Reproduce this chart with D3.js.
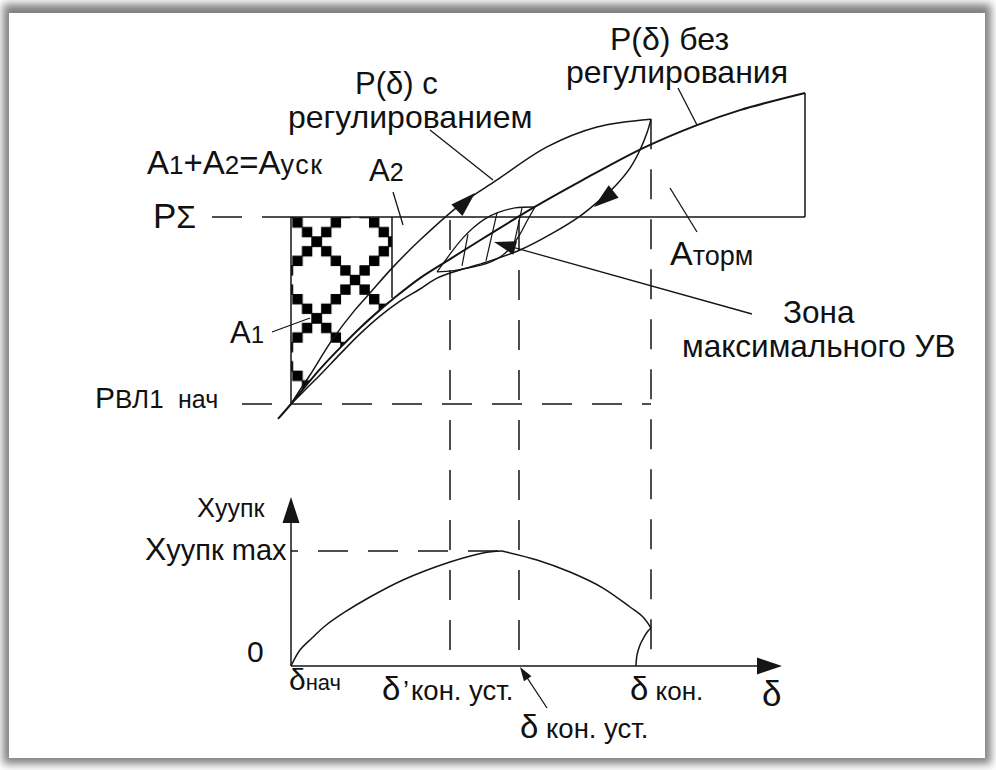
<!DOCTYPE html>
<html>
<head>
<meta charset="utf-8">
<script src="https://cdn.jsdelivr.net/npm/d3@7"></script>
<style>
  html, body { margin: 0; padding: 0; background: #fff; }
  svg { display: block; }
  text { font-family: "Liberation Sans", Arial, sans-serif; fill: #111; }
</style>
</head>
<body>
<svg id="chart" width="996" height="770"></svg>
<script>
// ---- characteristic angles, δ in degrees ----
const deltaStart = 30;          // δнач
const deltaSetPrime = 69.75;    // δ'кон. уст.
const deltaSet = 87;            // δкон. уст.
const deltaEnd = 120;           // δкон.
const deltaRight = 158.5;       // right edge of the braking area
const deltaAxisEnd = 152.75;    // δ axis arrow tip

// ---- power levels, relative units ----
const pStart = 0.4;             // PВЛ1 нач
const pSum = 1.0;               // PΣ
const accelEdge = [55.25, 0.74];  // right edge of the accelerating area

// P(δ) без регулирования
const pNoReg = [
  [26.75, 0.352], [30, 0.400], [33.5, 0.455], [37.25, 0.512], [42.25, 0.580],
  [47.25, 0.644], [52.25, 0.702], [55.5, 0.737], [62.25, 0.804], [69.75, 0.865],
  [79.75, 0.945], [90.5, 1.029], [103, 1.119], [118, 1.221], [131.5, 1.295],
  [142.25, 1.343], [158.5, 1.398]
];

// P(δ) с регулированием: swing forward
const pRegUp = [
  [30, 0.400], [32.25, 0.445], [34.75, 0.493], [40.25, 0.605], [46, 0.702],
  [49.75, 0.756], [55.25, 0.836], [62.25, 0.926], [72.25, 1.039], [81.5, 1.119],
  [94, 1.225], [106.5, 1.289], [120, 1.314]
];

// P(δ) с регулированием: swing back
const pRegBack = [
  [120, 1.314], [119, 1.270], [117.25, 1.215], [114.75, 1.157], [111, 1.099],
  [107.25, 1.055], [102.25, 1.003], [95.5, 0.949], [87.25, 0.894], [79, 0.856],
  [72.25, 0.830], [66.5, 0.804], [62.25, 0.769], [57.25, 0.730], [52.25, 0.682],
  [47.25, 0.625], [42.25, 0.560], [37.25, 0.493], [33.5, 0.445], [30, 0.400]
];

// zone of maximal excitation: two arcs and the hatching
const zoneUpper = [
  [66.5, 0.824], [68.5, 0.859], [70.5, 0.894], [73, 0.933], [75.5, 0.965],
  [78.5, 0.994], [81.5, 1.013], [86, 1.029], [91, 1.032]
];
const zoneLower = [
  [66.5, 0.824], [70.25, 0.827], [74, 0.836], [77.75, 0.846], [80.5, 0.859],
  [83, 0.878], [85.25, 0.907], [87.25, 0.945], [89, 0.987], [91, 1.032]
];
const zoneHatch = [
  [[74.25, 0.945], [72.75, 0.843]],
  [[81.5, 1.013], [78.75, 0.859]],
  [[87.75, 1.029], [85.75, 0.913]]
];

// direction arrows on the swing curves: [tip, base]
const swingArrows = [
  [[76, 1.077], [71.5, 1.022]],
  [[105.75, 1.032], [110.5, 1.080]]
];

// x уупк(δ), relative to x уупк max
const xRise = [
  [30, 0], [32.25, 0.139], [35.25, 0.243], [38.5, 0.348], [43.5, 0.47],
  [49.75, 0.6], [58, 0.748], [69.75, 0.904], [78, 0.983], [82.75, 1]
];
const xFall = [
  [82.75, 1], [91.5, 0.922], [99.75, 0.817], [108, 0.678], [114.75, 0.513],
  [118, 0.426], [120, 0.33]
];
const xBack = [
  [120, 0.33], [119.25, 0.304], [118.25, 0.252], [117.25, 0.183], [116.5, 0.096], [116.25, 0]
];
const xMax = 1;
const xAxisTop = 1.47;

// ---- scales ----
const x = d3.scaleLinear().domain([deltaStart, deltaRight]).range([291, 805]);
const yP = d3.scaleLinear().domain([pStart, pSum]).range([404, 217]);
const yX = d3.scaleLinear().domain([0, xMax]).range([666, 551]);

const svg = d3.select("#chart");
const INK = "#151515";

// ---- card with soft shadow ----
const defs = svg.append("defs");
const blur = defs.append("filter").attr("id", "shadow")
  .attr("x", "-5%").attr("y", "-5%").attr("width", "110%").attr("height", "110%");
blur.append("feGaussianBlur").attr("stdDeviation", 4);
svg.append("rect").attr("x", 3).attr("y", 4).attr("width", 988).attr("height", 760)
  .attr("fill", "#808080").attr("filter", "url(#shadow)");
svg.append("rect").attr("x", 9).attr("y", 13).attr("width", 976).attr("height", 745)
  .attr("fill", "#fff");

// ---- checkered fill of the accelerating area ----
const T = 76.67, s = T / 8, sq = 10.4;
const pat = defs.append("pattern").attr("id", "lattice")
  .attr("patternUnits", "userSpaceOnUse")
  .attr("x", 316.7 - T / 2).attr("y", 241.7 - T / 2)
  .attr("width", T).attr("height", T);
for (let i = 0; i <= 8; i++) {
  [[i * s, i * s], [i * s, T - i * s]].forEach(([cx, cy]) => {
    pat.append("rect").attr("x", cx - sq / 2).attr("y", cy - sq / 2)
      .attr("width", sq).attr("height", sq).attr("fill", "#000");
  });
}
const accelPoly = [[deltaStart, pSum], [accelEdge[0], pSum], accelEdge]
  .concat(pNoReg.filter(d => d[0] < accelEdge[0] && d[0] >= deltaStart).reverse());
defs.append("clipPath").attr("id", "accelClip")
  .append("path")
  .attr("d", "M" + accelPoly.map(d => [x(d[0]), yP(d[1])].join(",")).join("L") + "Z");
svg.append("rect")
  .attr("x", x(deltaStart)).attr("y", yP(pSum))
  .attr("width", x(accelEdge[0]) - x(deltaStart)).attr("height", yP(pStart) - yP(pSum))
  .attr("fill", "url(#lattice)").attr("clip-path", "url(#accelClip)");

// ---- helpers ----
const lineP = d3.line().x(d => x(d[0])).y(d => yP(d[1])).curve(d3.curveCatmullRom.alpha(0.5));
const lineX = d3.line().x(d => x(d[0])).y(d => yX(d[1])).curve(d3.curveCatmullRom.alpha(0.5));

function seg(x1, y1, x2, y2, opts = {}) {
  const l = svg.append("line").attr("x1", x1).attr("y1", y1).attr("x2", x2).attr("y2", y2)
    .attr("stroke", INK).attr("stroke-width", opts.w || 1.5);
  if (opts.dash) l.attr("stroke-dasharray", opts.dash).attr("stroke-dashoffset", opts.offset || 0);
  return l;
}
function arrowHead(tx, ty, bx, by, len, half) {
  const dx = tx - bx, dy = ty - by, n = Math.hypot(dx, dy);
  const ux = dx / n, uy = dy / n;
  const cx = tx - ux * len, cy = ty - uy * len;
  const pts = [[tx, ty], [cx - uy * half, cy + ux * half], [cx + uy * half, cy - ux * half]];
  svg.append("path").attr("d", "M" + pts.map(p => p.join(",")).join("L") + "Z").attr("fill", INK);
}

const DASH = "30,20";

// ---- reference lines, upper diagram ----
seg(212, yP(pSum), x(deltaStart), yP(pSum), { dash: DASH });                 // PΣ level
seg(x(deltaStart), yP(pSum), x(deltaRight), yP(pSum));                       // PΣ
seg(242, yP(pStart), x(deltaEnd), yP(pStart), { dash: DASH });               // PВЛ1 нач
seg(x(deltaStart), yP(pSum), x(deltaStart), yP(pStart));                     // δнач
seg(x(accelEdge[0]), yP(pSum), x(accelEdge[0]), yP(accelEdge[1]));          // A1 | A2 border
seg(x(deltaRight), yP(pNoReg[pNoReg.length - 1][1]), x(deltaRight), yP(pSum)); // braking area edge

// vertical projections to the lower diagram
seg(x(deltaSetPrime), yP(pSum) + 3, x(deltaSetPrime), yX(0) - 14, { dash: DASH });
seg(x(deltaSet), yP(pSum) + 3, x(deltaSet), yX(0) - 14, { dash: DASH });
seg(x(deltaEnd), yP(pRegUp[pRegUp.length - 1][1]), x(deltaEnd), yX(0) - 11, { dash: DASH });

// ---- curves ----
svg.append("path").attr("d", lineP(pNoReg)).attr("fill", "none").attr("stroke", INK).attr("stroke-width", 2);
svg.append("path").attr("d", lineP(pRegUp)).attr("fill", "none").attr("stroke", INK).attr("stroke-width", 1.5);
svg.append("path").attr("d", lineP(pRegBack)).attr("fill", "none").attr("stroke", INK).attr("stroke-width", 1.5);
svg.append("path").attr("d", lineP(zoneUpper)).attr("fill", "none").attr("stroke", INK).attr("stroke-width", 1.3);
svg.append("path").attr("d", lineP(zoneLower)).attr("fill", "none").attr("stroke", INK).attr("stroke-width", 1.3);
zoneHatch.forEach(h => seg(x(h[0][0]), yP(h[0][1]), x(h[1][0]), yP(h[1][1]), { w: 1.2 }));
swingArrows.forEach(a => arrowHead(x(a[0][0]), yP(a[0][1]), x(a[1][0]), yP(a[1][1]), 25, 8));

// ---- lower diagram ----
seg(x(deltaStart), yX(0), x(deltaAxisEnd) - 20, yX(0));
arrowHead(x(deltaAxisEnd), yX(0), x(deltaStart), yX(0), 25, 8.5);
seg(x(deltaStart), yX(0), x(deltaStart), yX(xAxisTop) + 20);
arrowHead(x(deltaStart), yX(xAxisTop), x(deltaStart), yX(0), 26, 8.5);
seg(x(deltaStart), yX(xMax), x(xRise[xRise.length - 1][0]), yX(xMax), { dash: DASH, offset: 23 });
[xRise, xFall, xBack].forEach(d =>
  svg.append("path").attr("d", lineX(d)).attr("fill", "none").attr("stroke", INK).attr("stroke-width", 1.5));

// ---- leaders ----
seg(430, 130, 493, 180, { w: 1.3 });
seg(678, 88, 697, 125, { w: 1.3 });
seg(670, 188, 697, 232, { w: 1.3 });
seg(393, 192, 403, 225, { w: 1.3 });
seg(272, 332, 310, 318, { w: 1.3 });
seg(752, 314, 505, 245, { w: 1.3 });
arrowHead(494, 242, 752, 314, 22, 7);
seg(547, 708, 524, 673, { w: 1.3 });
arrowHead(520, 667, 547, 708, 14, 4.5);

// ---- labels ----
function label(xp, yp, parts) {
  const t = svg.append("text").attr("x", xp).attr("y", yp);
  parts.forEach(p => {
    const ts = t.append("tspan").text(p[0]).attr("font-size", p[1]);
    if (p[2] !== undefined) ts.attr("x", p[2]);
    if (p[3] !== undefined) ts.attr("letter-spacing", p[3]);
  });
  return t;
}
label(610, 50, [["P(δ) без", 32]]);
label(566, 83, [["регулирования", 32]]);
label(355, 94, [["P(δ) с", 31]]);
label(288, 128, [["регулированием", 32]]);
label(147, 174, [["A", 33], ["1", 26], ["+A", 33], ["2", 26], ["=A", 33], ["уск", 27, undefined, 1.5]]);
label(369, 181, [["A", 31], ["2", 25]]);
label(153, 228, [["P", 35], ["Σ", 32]]);
label(670, 265, [["A", 34], ["торм", 27]]);
label(783, 323, [["Зона", 31.5]]);
label(682, 357, [["максимального УВ", 31.5]]);
label(230, 343, [["A", 31], ["1", 24]]);
label(95, 408, [["P", 30], ["ВЛ1", 26], ["нач", 25, 178]]);
label(197, 517, [["X", 27], ["уупк", 25]]);
label(145, 560, [["X", 32], ["уупк max", 29]]);
label(247, 662, [["0", 30]]);
label(289, 690, [["δ", 30], ["нач", 22]]);
label(382, 700, [["δ", 33], ["’", 27, 403], ["кон. уст.", 27.5, 411]]);
label(520, 738, [["δ", 33], [" кон. уст.", 27.5]]);
label(630, 700, [["δ", 33], [" кон.", 26]]);
label(762, 706, [["δ", 35]]);
</script>
</body>
</html>
